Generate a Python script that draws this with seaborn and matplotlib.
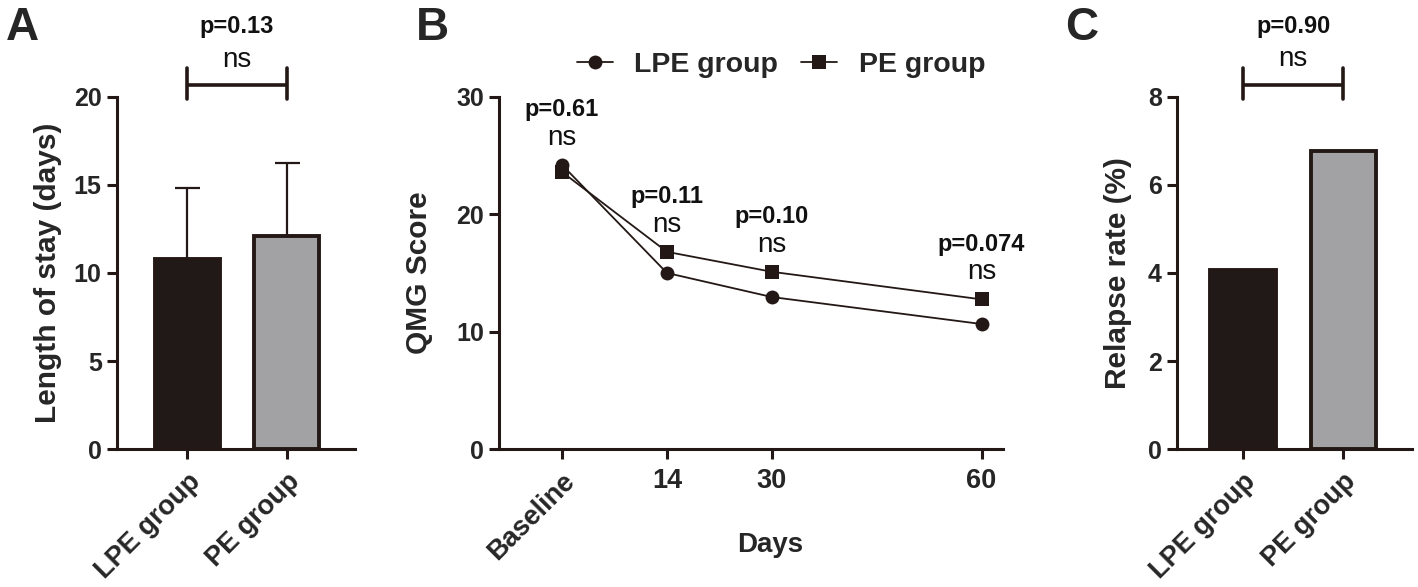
import matplotlib
matplotlib.use("Agg")
import matplotlib.pyplot as plt
import seaborn as sns
import pandas as pd

# data
groups = ["LPE group", "PE group"]
stay_mean = [10.8, 12.1]
stay_sd = [4.0, 4.15]
stay_p = "p=0.13"

timepoints = ["Baseline", "14", "30", "60"]
time_pos = [0, 1, 2, 4]
qmg_lpe = [24.2, 15.0, 12.95, 10.65]
qmg_pe = [23.6, 16.8, 15.1, 12.75]
qmg_p = ["p=0.61", "p=0.11", "p=0.10", "p=0.074"]

relapse = [4.07, 6.77]
relapse_p = "p=0.90"

INK = "#231815"
GREY = "#a2a1a6"
palette = {"LPE group": INK, "PE group": GREY}

sns.set_style("ticks")
plt.rcParams["font.family"] = ["Liberation Sans", "DejaVu Sans"]
plt.rcParams["axes.linewidth"] = 2.2
plt.rcParams["axes.edgecolor"] = INK

fig = plt.figure(figsize=(14.18, 5.87), dpi=100)
axA = fig.add_axes([0.0825, 0.235, 0.168, 0.6])
axB = fig.add_axes([0.352, 0.235, 0.355, 0.6])
axC = fig.add_axes([0.830, 0.235, 0.166, 0.6])

YLAB = dict(fontsize=21.5, fontweight="bold")


def style_axis(ax):
    sns.despine(ax=ax)
    ax.tick_params(width=2.2, length=7, color=INK, pad=4)
    ax.tick_params(axis="y", labelsize=18)
    ax.tick_params(axis="x", labelsize=19.5, pad=7)
    for lab in ax.get_yticklabels() + ax.get_xticklabels():
        lab.set_fontweight("bold")


def rotate(labels):
    for lab in labels:
        lab.set_rotation(45)
        lab.set_ha("right")
        lab.set_rotation_mode("anchor")


def bracket(ax, y, cap, ns_y, p_y, ptxt):
    ax.plot([0, 1], [y, y], color=INK, lw=2.6, clip_on=False, solid_capstyle="butt")
    for x in (0, 1):
        ax.plot([x, x], [y - cap, y + cap * 1.1], color=INK, lw=2.6, clip_on=False)
    ax.text(0.5, ns_y, "ns", ha="center", va="center", fontsize=20, color="#111111")
    ax.text(0.5, p_y, ptxt, ha="center", va="center", fontsize=17,
            fontweight="bold", color="#111111")


# ---- A: length of stay
dfA = pd.DataFrame({"group": groups, "stay": stay_mean})
sns.barplot(data=dfA, x="group", y="stay", hue="group", palette=palette,
            width=0.65, edgecolor=INK, linewidth=2.8, ax=axA, legend=False)
axA.errorbar(range(len(groups)), stay_mean, yerr=[[0, 0], stay_sd], fmt="none",
             ecolor=INK, elinewidth=1.6, capsize=9, capthick=1.6, zorder=1)
axA.set_ylim(0, 20)
axA.set_xlim(-0.71, 1.69)
axA.set_yticks([0, 5, 10, 15, 20])
axA.set_xlabel("")
axA.set_ylabel("Length of stay (days)", **YLAB)
axA.yaxis.set_label_coords(-0.231, 0.5)
style_axis(axA)
rotate(axA.get_xticklabels())
bracket(axA, 20.7, 0.85, 22.1, 24.0, stay_p)

# ---- B: QMG score over time
dfB = pd.DataFrame({
    "pos": time_pos * 2,
    "score": qmg_lpe + qmg_pe,
    "group": ["LPE group"] * 4 + ["PE group"] * 4,
})
sns.lineplot(data=dfB, x="pos", y="score", hue="group", style="group",
             palette={"LPE group": INK, "PE group": INK},
             markers={"LPE group": "o", "PE group": "s"}, dashes=False,
             markersize=10, markeredgewidth=0, linewidth=1.3, ax=axB)
axB.set_ylim(0, 30)
axB.set_xlim(-0.6, 4.2)
axB.set_yticks([0, 10, 20, 30])
axB.set_xticks(time_pos)
axB.set_xticklabels(timepoints)
axB.set_xlabel("Days", fontsize=20, fontweight="bold")
axB.xaxis.set_label_coords(0.538, -0.235)
axB.set_ylabel("QMG Score", **YLAB)
axB.yaxis.set_label_coords(-0.131, 0.5)
style_axis(axB)
rotate(axB.get_xticklabels()[:1])
for x, a, b, p in zip(time_pos, qmg_lpe, qmg_pe, qmg_p):
    top = max(a, b)
    axB.text(x, top + 2.3, "ns", ha="center", va="center", fontsize=20, color="#111111")
    axB.text(x, top + 4.7, p, ha="center", va="center", fontsize=17,
             fontweight="bold", color="#111111", clip_on=False)
leg = axB.legend(loc="center", bbox_to_anchor=(0.56, 1.09), ncol=2, frameon=False,
                 handlelength=1.25, columnspacing=0.8, handletextpad=0.77,
                 borderpad=0.2, prop={"size": 20.5, "weight": "bold"})
for h in leg.legend_handles:
    h.set_color(INK)

# ---- C: relapse rate
dfC = pd.DataFrame({"group": groups, "rate": relapse})
sns.barplot(data=dfC, x="group", y="rate", hue="group", palette=palette,
            width=0.65, edgecolor=INK, linewidth=2.8, ax=axC, legend=False)
axC.set_ylim(0, 8)
axC.set_xlim(-0.66, 1.69)
axC.set_yticks([0, 2, 4, 6, 8])
axC.set_xlabel("")
axC.set_ylabel("Relapse rate (%)", **YLAB)
axC.yaxis.set_label_coords(-0.19, 0.5)
style_axis(axC)
rotate(axC.get_xticklabels())
bracket(axC, 8.28, 0.34, 8.85, 9.6, relapse_p)

# panel letters
for x, letter in [(0.004, "A"), (0.293, "B"), (0.751, "C")]:
    fig.text(x, 0.99, letter, fontsize=33, fontweight="bold", va="top", ha="left")

fig.savefig("out.png", dpi=100)
